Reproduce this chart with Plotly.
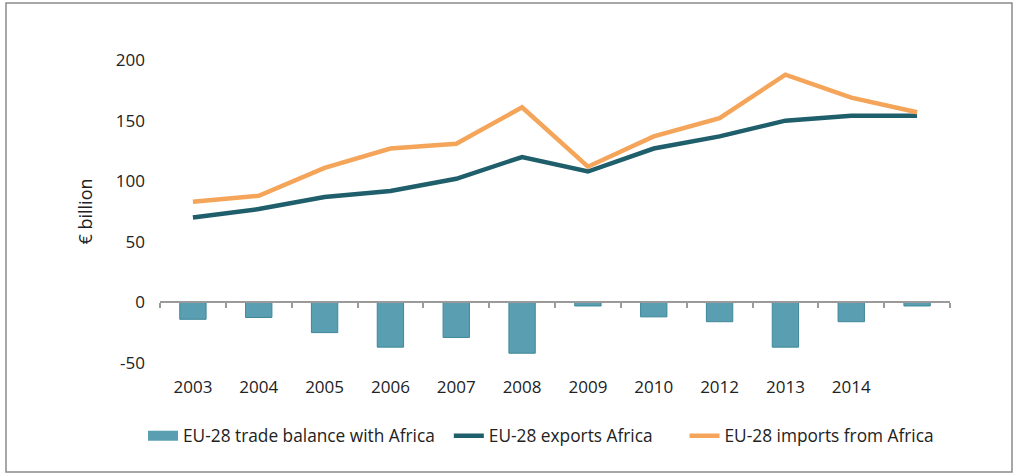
import plotly.graph_objects as go

years = ["2003", "2004", "2005", "2006", "2007", "2008", "2009", "2010", "2012", "2013", "2014", " "]
balance = [-14, -12.5, -25, -37, -29, -42, -3, -12, -16, -37, -16, -3]
exports = [70, 77, 87, 92, 102, 120, 108, 127, 137, 150, 154, 154]
imports = [83, 88, 111, 127, 131, 161, 112, 137, 152, 188, 169, 157]
y_ticks = [-50, 0, 50, 100, 150, 200]
y_ticktext = ["-50", "0", "50", "100", "150", "200"]

W, H = 1019, 476
L, R, T, B = 160, 69, 48, 101
YMIN, YMAX = -60, 210
pw, ph = W - L - R, H - T - B

def px_x(p):
    return (p - L) / pw

def px_y(p):
    return (H - B - p) / ph

BAR_C = "#5A9FB1"
EXP_C = "#1F5E6B"
IMP_C = "#F4A55A"
NBSP = "\u00a0"

fig = go.Figure()
fig.add_trace(go.Bar(
    x=years, y=balance, name="EU-28 trade balance with Africa",
    marker=dict(color=BAR_C, line=dict(color="#3E8799", width=1)),
    width=0.4, showlegend=False,
))
# legend-only entry to get a wide rectangular swatch like the reference
fig.add_trace(go.Scatter(
    x=[None], y=[None], mode="lines", name="EU-28 trade balance with Africa" + NBSP * 2,
    line=dict(color=BAR_C, width=12), hoverinfo="skip",
))
fig.add_trace(go.Scatter(
    x=years, y=exports, name="EU-28 exports Africa" + NBSP * 6, mode="lines",
    line=dict(color=EXP_C, width=4.5),
))
fig.add_trace(go.Scatter(
    x=years, y=imports, name="EU-28 imports from Africa", mode="lines",
    line=dict(color=IMP_C, width=4.5),
))

fig.update_layout(
    width=W, height=H,
    margin=dict(l=L, r=R, t=T, b=B),
    paper_bgcolor="white", plot_bgcolor="white",
    font=dict(family="Open Sans", size=17, color="#222"),
    showlegend=True,
    legend=dict(
        orientation="h", x=px_x(143), xanchor="left", y=px_y(436), yanchor="middle",
        font=dict(size=17.3, color="#222"), bgcolor="rgba(0,0,0,0)",
        tracegroupgap=0, itemwidth=30,
    ),
    xaxis=dict(
        type="category", categoryorder="array", categoryarray=years,
        range=[-0.5, len(years) - 0.5],
        anchor="free", position=(0 - YMIN) / (YMAX - YMIN),
        showline=True, linecolor="#9a9a9a", linewidth=1.5,
        ticks="outside", ticklen=5, tickcolor="#9a9a9a", tickwidth=1.5,
        tickson="boundaries", showgrid=False, zeroline=False,
        ticklabelstandoff=70, tickfont=dict(size=17, color="#222"),
    ),
    yaxis=dict(
        range=[YMIN, YMAX], tickmode="array", tickvals=y_ticks, ticktext=y_ticktext,
        showgrid=False, zeroline=False, showline=False, ticks="",
        ticklabelstandoff=14, tickfont=dict(size=17, color="#222"),
        title=dict(text="€ billion", font=dict(size=18, color="#222"), standoff=18),
    ),
    bargap=0.6,
    shapes=[dict(
        type="rect", xref="paper", yref="paper",
        x0=px_x(6), x1=px_x(1012), y0=px_y(472), y1=px_y(3),
        line=dict(color="#8a8a8a", width=1.5), fillcolor="rgba(0,0,0,0)", layer="below",
    )],
)

fig.write_html(
    "out.html",
    config={"displayModeBar": False},
    post_script="document.body.style.margin='0';",
)
